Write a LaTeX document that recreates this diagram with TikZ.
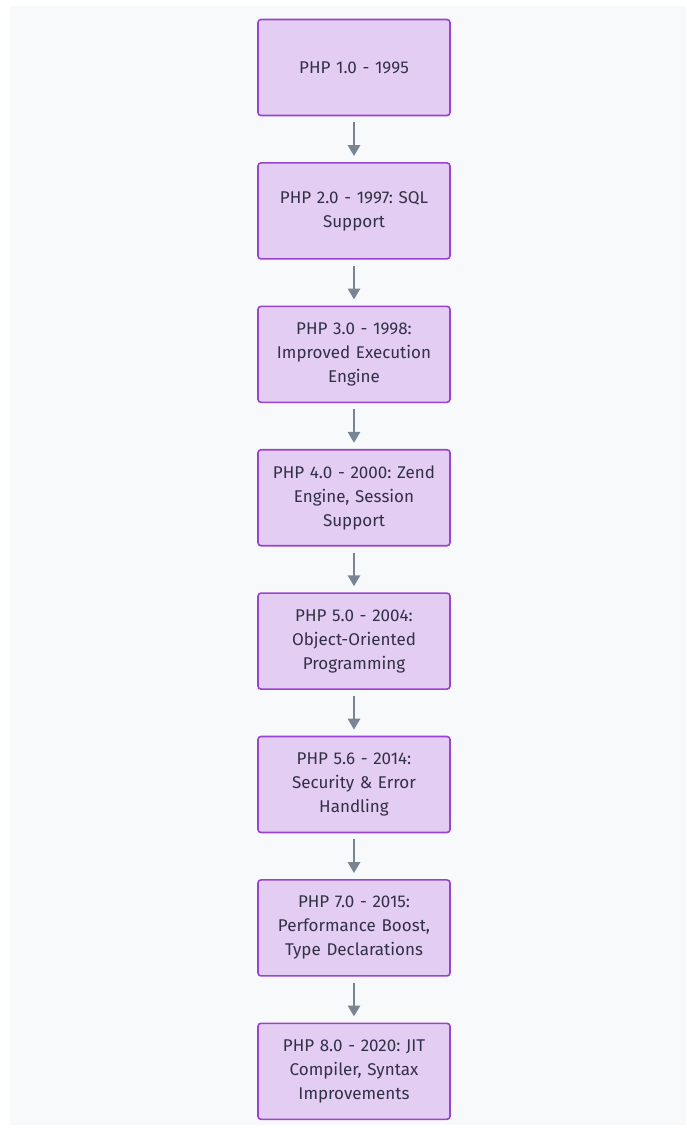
\documentclass[tikz,border=0pt]{standalone}
\usepackage{fontspec}
\setmainfont{Fira Sans}
\usetikzlibrary{positioning,arrows.meta}
\definecolor{phpfill}{RGB}{228,205,242}
\definecolor{phpborder}{RGB}{153,68,204}
\definecolor{phptext}{RGB}{50,48,70}
\definecolor{phparrow}{RGB}{120,134,148}
\definecolor{phpback}{RGB}{248,249,250}
\frenchspacing

\begin{document}
\begin{tikzpicture}[x=1pt,y=1pt,
  version/.style={draw=phpborder,fill=phpfill,line width=1.6pt,rounded corners=3pt,
    minimum width=192pt,minimum height=96pt,text width=184pt,align=center,
    text=phptext,font=\fontsize{17}{24}\selectfont},
  flow/.style={draw=phparrow,line width=2.8pt,-{Triangle[width=12pt,length=11pt]},
    shorten <=6pt,shorten >=6pt},
  node distance=45.8pt]
% Background
\useasboundingbox (0,0) rectangle (686,-1128);
\fill[phpback] (10,-6) rectangle (686,-1125);

% Versions
\node[version] (p1) at (354,-67.5) {PHP 1.0 - 1995};
\node[version,below=of p1] (p2) {PHP 2.0 - 1997: SQL\\Support};
\node[version,below=of p2] (p3) {PHP 3.0 - 1998:\\Improved Execution\\Engine};
\node[version,below=of p3] (p4) {PHP 4.0 - 2000: Zend\\Engine, Session\\Support};
\node[version,below=of p4] (p5) {PHP 5.0 - 2004:\\Object-Oriented\\Programming};
\node[version,below=of p5] (p6) {PHP 5.6 - 2014:\\Security \& Error\\Handling};
\node[version,below=of p6] (p7) {PHP 7.0 - 2015:\\Performance Boost,\\Type Declarations};
\node[version,below=of p7] (p8) {PHP 8.0 - 2020: JIT\\Compiler, Syntax\\Improvements};

% Arrows
\foreach \a/\b in {p1/p2,p2/p3,p3/p4,p4/p5,p5/p6,p6/p7,p7/p8}
  \draw[flow] (\a) -- (\b);
\end{tikzpicture}
\end{document}
